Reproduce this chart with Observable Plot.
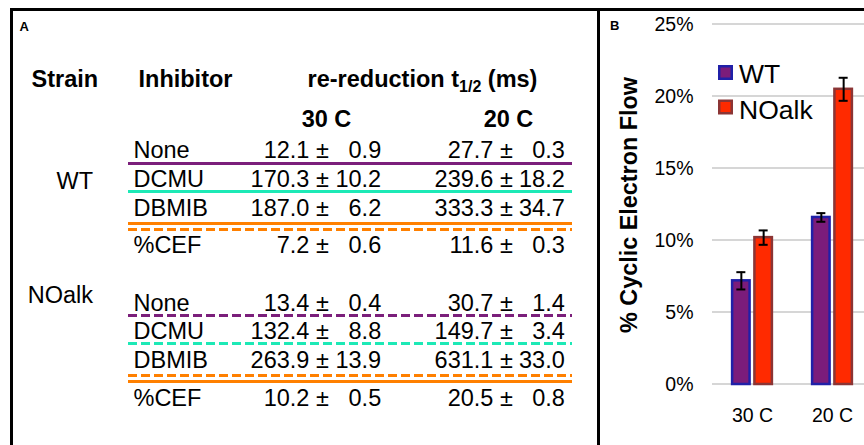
<!DOCTYPE html>
<html>
<head>
<meta charset="utf-8">
<script src="https://cdn.jsdelivr.net/npm/d3@7"></script>
<script src="https://cdn.jsdelivr.net/npm/@observablehq/plot@0.6"></script>
<style>
html, body { margin: 0; padding: 0; background: #fff; overflow: hidden; }
#wrap { position: relative; width: 864px; height: 445px; overflow: hidden; font-family: "Liberation Sans", Arial, Helvetica, sans-serif; }
#panelA { position: absolute; left: 0; top: 0; width: 600px; height: 445px; }
#panelB { position: absolute; left: 600px; top: 0; width: 272px; height: 445px; }
#panelA svg, #panelB svg { max-width: none !important; }
.border { position: absolute; background: #000; }
</style>
</head>
<body>
<div id="wrap">
  <div id="panelA"></div>
  <div id="panelB"></div>
  <div class="border" style="left:10px;top:8px;width:854px;height:3px"></div>
  <div class="border" style="left:10px;top:8px;width:2.5px;height:437px"></div>
  <div class="border" style="left:597px;top:8px;width:3px;height:437px"></div>
</div>
<script>
// ---------------- DATA ----------------
const strains = ["WT", "NOalk"];
const inhibitors = ["None", "DCMU", "DBMIB", "%CEF"];
const temps = ["30 C", "20 C"];

const wtMean30 = [12.1, 170.3, 187.0, 7.2];
const wtErr30  = [0.9, 10.2, 6.2, 0.6];
const wtMean20 = [27.7, 239.6, 333.3, 11.6];
const wtErr20  = [0.3, 18.2, 34.7, 0.3];
const noMean30 = [13.4, 132.4, 263.9, 10.2];
const noErr30  = [0.4, 8.8, 13.9, 0.5];
const noMean20 = [30.7, 149.7, 631.1, 20.5];
const noErr20  = [1.4, 3.4, 33.0, 0.8];

const yTicks = [0, 5, 10, 15, 20, 25];

// ---------------- STYLE / LAYOUT ----------------
const FONT = '"Liberation Sans", Arial, Helvetica, sans-serif';
const FS = 23.5;
const purple = "#7b1f7b", teal = "#1de9b6", orange = "#ff8000";
const barFill = ["#7b1c7b", "#ff2a00"];
const barStroke = ["#2020a8", "#8b3535"];

// table layout (pixel positions in panel A)
const headerBase = 86, tempBase = 126;
const strainLabelRight = 92.5;
const strainLabelBase = [188, 302];
const inhibX = 133;
const rowBase = [[157, 186, 215, 252], [310, 338, 367, 405]];
const lineYs = [[163, 191, 223, 229], [315, 343, 375, 381]];
const lineColorSeq = [purple, teal, orange, orange];
const lineX1 = 128, lineX2 = 572;
const tempCenter = [326, 508];
const pmRight = [328.3, 512.3];
const errRight = [380.7, 564.3];

// ---------------- PANEL A: table ----------------
const means = [[wtMean30, wtMean20], [noMean30, noMean20]];
const errs = [[wtErr30, wtErr20], [noErr30, noErr20]];

const boldStart = [
  {t: "Strain", x: 31, y: headerBase},
  {t: "Inhibitor", x: 138, y: headerBase}
];
const headerTitle = "re-reduction t1/2 (ms)";
const boldMiddle = [{t: headerTitle, x: 422, y: headerBase}]
  .concat(temps.map((t, i) => ({t, x: tempCenter[i], y: tempBase})));

const strainLabels = strains.map((s, i) => ({t: s, x: strainLabelRight, y: strainLabelBase[i]}));
const inhibLabels = strains.flatMap((s, si) => inhibitors.map((inh, j) => ({t: inh, x: inhibX, y: rowBase[si][j]})));
const pmTexts = [], errTexts = [];
strains.forEach((s, si) => temps.forEach((t, ti) => inhibitors.forEach((inh, j) => {
  pmTexts.push({t: means[si][ti][j].toFixed(1) + " \u00b1", x: pmRight[ti], y: rowBase[si][j]});
  errTexts.push({t: errs[si][ti][j].toFixed(1), x: errRight[ti], y: rowBase[si][j]});
})));

const tableLines = strains.flatMap((s, si) => lineColorSeq.map((c, k) => ({
  y: lineYs[si][k], color: c, dashed: si === 0 ? k === 3 : k !== 3, x1: lineX1, x2: lineX2
})));

const txt = (data, anchor, weight, size = FS) => Plot.text(data, {
  x: "x", y: "y", text: "t", textAnchor: anchor, lineAnchor: "bottom",
  fontSize: size, fontWeight: weight, fill: "#000"
});

const tableA = Plot.plot({
  width: 600, height: 445, margin: 0,
  x: {domain: [0, 600], range: [0, 600], axis: null},
  y: {domain: [0, 445], range: [0, 445], axis: null},
  color: {type: "identity"},
  style: {fontFamily: FONT, background: "transparent", overflow: "visible", maxWidth: "none"},
  marks: [
    Plot.ruleY(tableLines.filter(d => !d.dashed), {x1: "x1", x2: "x2", y: "y", stroke: "color", strokeWidth: 3}),
    Plot.ruleY(tableLines.filter(d => d.dashed), {x1: "x1", x2: "x2", y: "y", stroke: "color", strokeWidth: 3, strokeDasharray: "9,4"}),
    txt([{t: "A", x: 19, y: 30}], "start", "bold", 13),
    txt(boldStart, "start", "bold"),
    txt(boldMiddle, "middle", "bold"),
    txt(strainLabels, "end", "normal"),
    txt(inhibLabels, "start", "normal"),
    txt(pmTexts, "end", "normal"),
    txt(errTexts, "end", "normal")
  ]
});
// subscript for t1/2
d3.select(tableA).selectAll("text").filter(function() { return this.textContent === headerTitle; })
  .each(function() {
    const el = d3.select(this);
    el.text(null);
    el.append("tspan").text("re-reduction t");
    el.append("tspan").attr("font-size", 16).attr("dy", 5).text("1/2");
    el.append("tspan").attr("dy", -5).text(" (ms)");
  });
document.getElementById("panelA").appendChild(tableA);

// ---------------- PANEL B: bar chart ----------------
const cefMean = [[wtMean30[3], wtMean20[3]], [noMean30[3], noMean20[3]]];
const cefErr = [[wtErr30[3], wtErr20[3]], [noErr30[3], noErr20[3]]];
const bars = strains.flatMap((s, si) => temps.map((t, ti) => ({
  strain: s, temp: t, value: cefMean[si][ti], err: cefErr[si][ti]
})));

const B = {width: 272, marginLeft: 112, marginRight: 0};
const groupWidth = (B.width - B.marginLeft - B.marginRight) / temps.length;
// strain position within each temperature group (band scale)
const inner = d3.scaleBand(strains, [0, groupWidth]).paddingInner(0.103).paddingOuter(0.845);
const bw = inner.bandwidth();
const capHalf = 4.5;

const chartB = Plot.plot({
  width: B.width, height: 445,
  marginLeft: B.marginLeft, marginRight: B.marginRight, marginTop: 24, marginBottom: 61,
  style: {fontFamily: FONT, fontSize: "19.5px", color: "#000", background: "transparent", overflow: "visible", maxWidth: "none"},
  x: {domain: temps, padding: 0, label: null, tickSize: 0, tickPadding: 24},
  y: {domain: [0, 25], ticks: yTicks, tickFormat: d => d + "%", tickSize: 0, tickPadding: 19, label: null},
  marks: [
    Plot.ruleY(yTicks, {stroke: "#d6d6d6", strokeWidth: 2, dy: -0.5}),
    ...strains.map((s, si) => Plot.barY(bars.filter(d => d.strain === s), {
      x: "temp", y: "value",
      fill: barFill[si], stroke: barStroke[si], strokeWidth: 2.5,
      insetLeft: inner(s) + 1.25, insetRight: groupWidth - inner(s) - bw + 1.25
    })),
    ...strains.map((s, si) => Plot.ruleX(bars.filter(d => d.strain === s), {
      x: "temp", y1: d => d.value - d.err, y2: d => d.value + d.err,
      dx: inner(s) + bw / 2 - groupWidth / 2, stroke: "#000", strokeWidth: 2
    })),
    ...strains.flatMap((s, si) => [-1, 1].map(sign => Plot.tickY(bars.filter(d => d.strain === s), {
      x: "temp", y: d => d.value + sign * d.err, stroke: "#000", strokeWidth: 2,
      insetLeft: inner(s) + bw / 2 - capHalf, insetRight: groupWidth - inner(s) - bw / 2 - capHalf
    })))
  ]
});
const svgB = d3.select(chartB);
svgB.append("text")
  .attr("transform", "translate(36.5,205) rotate(-90)")
  .attr("text-anchor", "middle")
  .attr("font-family", FONT).attr("font-weight", "bold").attr("font-size", 23.4)
  .attr("fill", "#000")
  .text("% Cyclic Electron Flow");
svgB.append("text")
  .attr("x", 10).attr("y", 30).attr("text-anchor", "start")
  .attr("font-family", FONT).attr("font-weight", "bold").attr("font-size", 13)
  .attr("fill", "#000").text("B");
// legend
const legendY = [65, 99.5];
const legendBase = [83, 119];
strains.forEach((s, si) => {
  svgB.append("rect")
    .attr("x", 119.25).attr("y", legendY[si] + 1.25).attr("width", 12.5).attr("height", 12.5)
    .attr("fill", barFill[si]).attr("stroke", barStroke[si]).attr("stroke-width", 2.5);
  svgB.append("text")
    .attr("x", 139).attr("y", legendBase[si]).attr("text-anchor", "start")
    .attr("font-family", FONT).attr("font-size", 26.5).attr("fill", "#000")
    .text(s);
});
document.getElementById("panelB").appendChild(chartB);
</script>
</body>
</html>
